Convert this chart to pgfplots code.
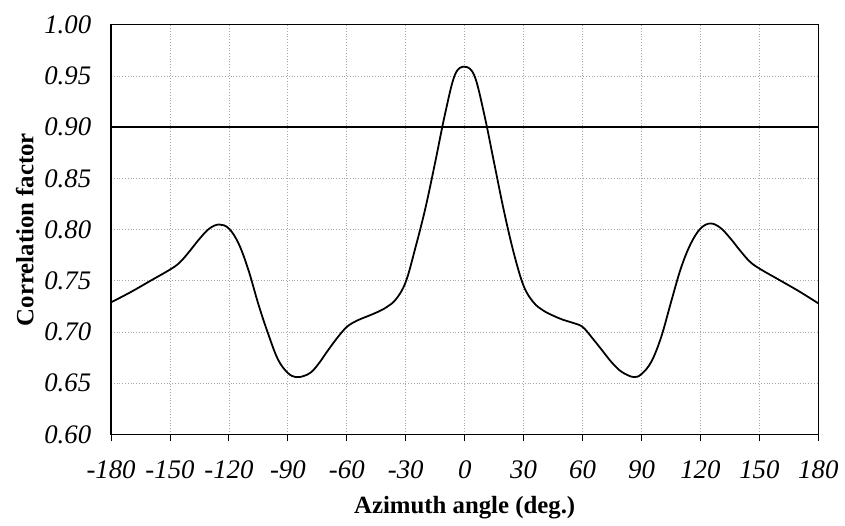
\documentclass[border=0pt]{standalone}
\usepackage{pgfplots}
\pgfplotsset{compat=1.18}
\usepackage{fontspec}
\setmainfont{Liberation Serif}
\usetikzlibrary{calc}
\begin{document}
\begin{tikzpicture}
\begin{axis}[
  name=ax,
  scale only axis,
  width=356.5pt, height=206.5pt,
  xmin=-180, xmax=180, ymin=0.60, ymax=1.00,
  xtick={-180,-150,...,180},
  ytick={0.60,0.65,...,1.001},
  grid=major,
  major grid style={gray!70, densely dotted, line width=0.4pt},
  axis line style={black, line width=0.7pt},
  tick align=outside,
  xtick pos=bottom,
  ytick pos=left,
  x tick style={black, line width=0.5pt},
  major tick length=3.5pt,
  y tick style={draw=none},
  /pgf/number format/assume math mode=true,
  yticklabel style={/pgf/number format/fixed, /pgf/number format/fixed zerofill, /pgf/number format/precision=2, font=\fontsize{13.5}{15}\selectfont\itshape, xshift=-3pt},
  xticklabel style={font=\fontsize{13.5}{15}\selectfont\itshape, yshift=-6pt},
  xlabel={Azimuth angle (deg.)},
  ylabel={Correlation factor},
  xlabel style={font=\fontsize{12.5}{14}\selectfont\bfseries, yshift=-2pt},
  ylabel style={font=\fontsize{12.5}{14}\selectfont\bfseries, yshift=-1.5pt},
]
\addplot[black, line width=0.9pt] coordinates {(-180,0.9) (180,0.9)};
\addplot[black, line width=0.9pt, smooth, tension=0.6] coordinates {
(-180,0.729) (-170,0.739) (-160,0.750) (-150,0.761) (-145,0.768) (-140,0.779)
(-135,0.791) (-130,0.801) (-125,0.805) (-120,0.801) (-115,0.786) (-110,0.760)
(-105,0.727) (-100,0.698) (-95,0.673) (-90,0.660) (-86,0.656) (-82,0.657)
(-78,0.661) (-74,0.670) (-70,0.681) (-65,0.694) (-60,0.705) (-55,0.711)
(-50,0.715) (-45,0.719) (-40,0.724) (-35,0.732) (-30,0.749) (-25,0.783)
(-20,0.821) (-15,0.866) (-10,0.913) (-5,0.951) (0,0.959)
(5,0.950) (10,0.912) (15,0.865) (20,0.818) (25,0.777) (30,0.745)
(35,0.729) (40,0.721) (45,0.716) (50,0.712) (55,0.709) (60,0.705)
(65,0.694) (70,0.682) (75,0.670) (80,0.661) (86,0.656) (90,0.659)
(95,0.671) (100,0.695) (105,0.729) (110,0.762) (115,0.786) (120,0.801)
(125,0.806) (130,0.802) (135,0.792) (140,0.780) (145,0.769) (150,0.762)
(160,0.751) (170,0.740) (180,0.728)
};
\end{axis}
\path ($(ax.south west)+(-56pt,-38pt)$) rectangle ($(ax.north east)+(10pt,12.5pt)$);
\end{tikzpicture}
\end{document}
